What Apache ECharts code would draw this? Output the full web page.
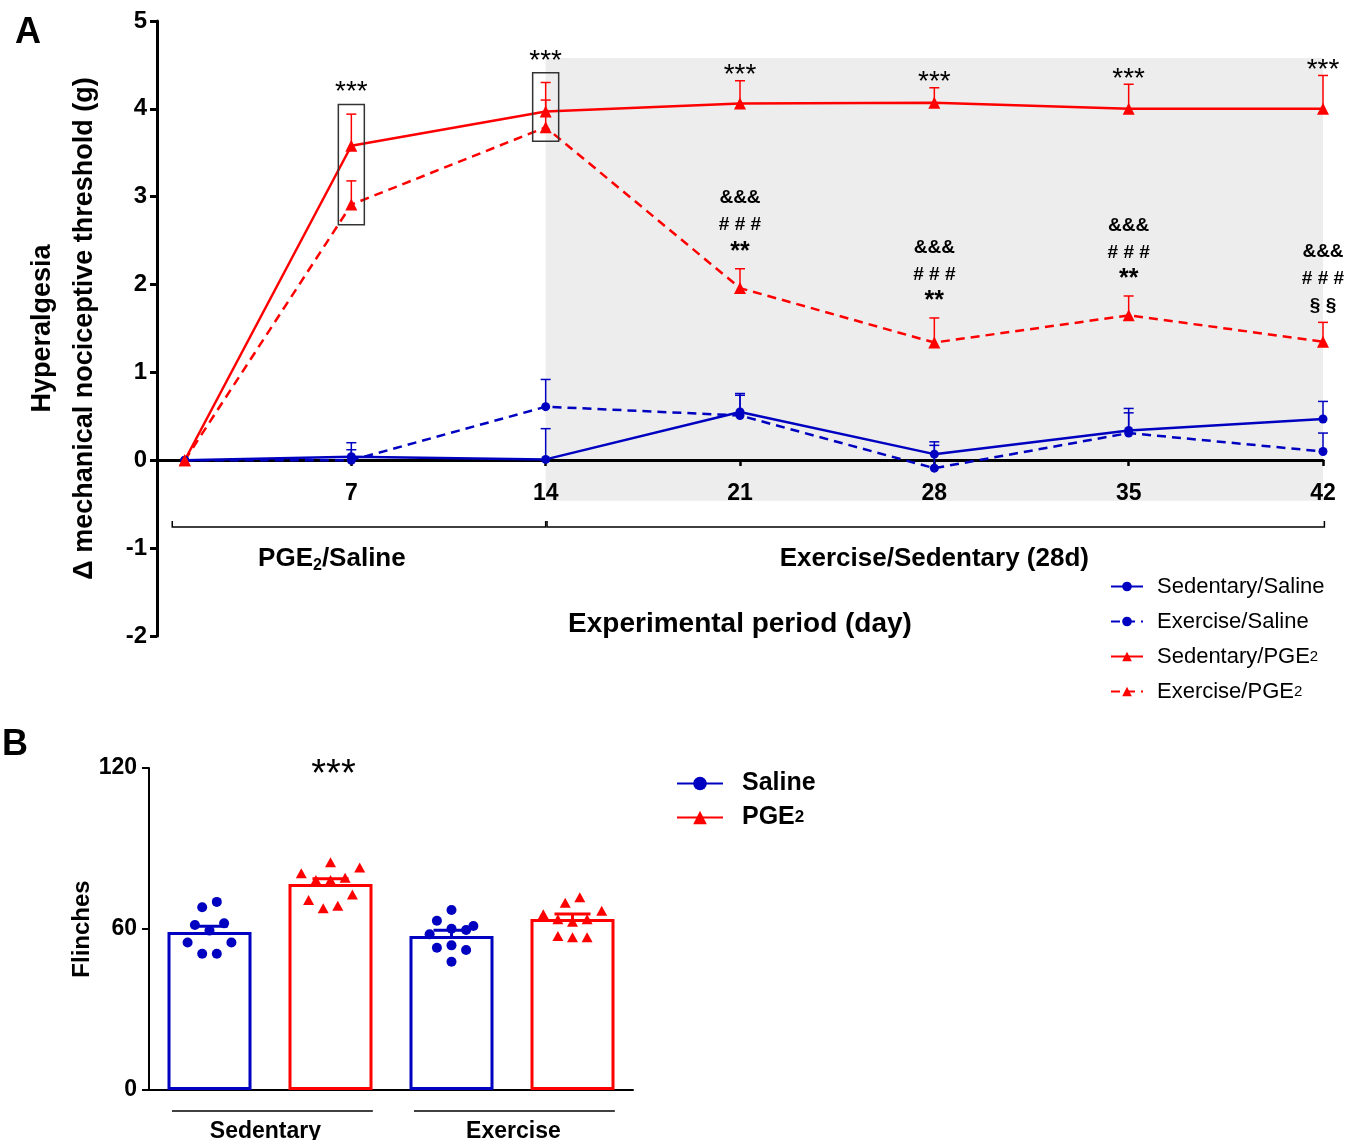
<!DOCTYPE html>
<html><head><meta charset="utf-8">
<script src="https://cdn.jsdelivr.net/npm/echarts@6/dist/echarts.min.js"></script>
<style>html,body{margin:0;padding:0;background:#fff}#c{width:1364px;height:1140px}</style>
</head><body><div id="c"></div><script>
// ---------- Panel A data ----------
const days = [1, 7, 14, 21, 28, 35, 42];
const sedSalineMean = [0, 0.04, 0.01, 0.55, 0.07, 0.34, 0.47];
const sedSalineSem  = [0, 0.16, 0.35, 0.21, 0.14, 0.25, 0.20];
const exSalineMean  = [0, 0.00, 0.61, 0.51, -0.09, 0.31, 0.10];
const exSalineSem   = [0, 0.12, 0.31, 0.23, 0.26, 0.23, 0.21];
const sedPGE2Mean   = [0, 3.58, 3.97, 4.06, 4.07, 4.00, 4.00];
const sedPGE2Sem    = [0, 0.36, 0.33, 0.26, 0.17, 0.28, 0.38];
const exPGE2Mean    = [0, 2.91, 3.79, 1.96, 1.34, 1.65, 1.35];
const exPGE2Sem     = [0, 0.27, 0.31, 0.22, 0.28, 0.22, 0.22];
const solidMarks  = ['', '***', '***', '***', '***', '***', '***'];
const dashedMarks = [null, null, null, ['&&&', '# # #', '**'], ['&&&', '# # #', '**'], ['&&&', '# # #', '**'], ['&&&', '# # #', '§ §']];
const boxDays = [7, 14];
const boxTops = [4.05, 4.41];
const boxBottoms = [2.68, 3.63];
const shadeDays = [14, 42];
const shadeValues = [-0.46, 4.58];
const periodLabels = ['PGE2/Saline', 'Exercise/Sedentary (28d)'];
const periodFrom = [0.55, 14.05];
const periodTo = [14, 42.05];
const periodLabelDay = [6.3, 28];
const periodLevel = -0.76, periodLabelLevel = -1.12;
const namesA = ['Sedentary/Saline', 'Exercise/Saline', 'Sedentary/PGE2', 'Exercise/PGE2'];

// ---------- Panel B data ----------
const groupsB = ['Sedentary/Saline', 'Sedentary/PGE2', 'Exercise/Saline', 'Exercise/PGE2'];
const flinchMean = [58.9, 76.8, 57.4, 63.7];
const flinchSem  = [2.1, 1.9, 2.1, 1.9];
const sedSalinePts = [68.1, 70.1, 61.5, 62.1, 59.4, 55.0, 55.0, 50.8, 50.8];
const sedSalineSlot = [-1, 1, -2, 2, 0, -3, 3, -1, 1];
const sedPGE2Pts = [80.8, 84.9, 82.9, 78.3, 78.3, 79.1, 70.8, 67.7, 68.7, 72.9];
const sedPGE2Slot = [-4, 0, 4, -2, 0, 2, -3, -1, 1, 3];
const exSalinePts = [67.1, 63.1, 61.1, 59.6, 60.1, 58.0, 53.0, 53.9, 52.2, 47.8];
const exSalineSlot = [0, -2, 3, 2, 0, -3, -2, 0, 2, 0];
const exPGE2Pts = [65.5, 69.8, 71.8, 66.8, 63.6, 62.7, 63.6, 57.4, 56.9, 56.9];
const exPGE2Slot = [-4, -1, 1, 4, -2, 0, 2, -2, 0, 2];
const groupNames = ['Sedentary', 'Exercise'];
const groupFirst = [0, 2], groupLast = [1, 3];
const groupLineLevel = -7.8, groupLabelLevel = -15;

// ---------- styles ----------
const FONT = "'Liberation Sans', Arial, sans-serif";
const BLUE = '#0000c0', RED = '#ff0000';
const DASH = [9, 6];
const SLOT = 7.3;

function errRender(color, lw, cw) {
  return function (params, api) {
    const x = api.value(0), m = api.value(1), s = api.value(2);
    if (!s) return null;
    const p0 = api.coord([x, m]), p1 = api.coord([x, m + s]);
    return {type: 'group', children: [
      {type: 'line', shape: {x1: p0[0], y1: p0[1], x2: p1[0], y2: p1[1]}, style: {stroke: color, lineWidth: lw}},
      {type: 'line', shape: {x1: p1[0] - cw, y1: p1[1], x2: p1[0] + cw, y2: p1[1]}, style: {stroke: color, lineWidth: lw}}
    ]};
  };
}
function rows(mean, sem) { return days.map((d, i) => [d, mean[i], sem[i]]); }
function lineA(name, mean, color, dashed, symbol, size) {
  return {
    type: 'line', name, xAxisIndex: 0, yAxisIndex: 0, z: 3,
    data: days.map((d, i) => [d, mean[i]]),
    symbol, symbolSize: size, showSymbol: true,
    itemStyle: {color},
    lineStyle: {color, width: 2.5, type: dashed ? DASH : 'solid'},
    emphasis: {disabled: true}
  };
}
function errA(mean, sem, color) {
  return {type: 'custom', xAxisIndex: 0, yAxisIndex: 0, z: 2, renderItem: errRender(color, 1.5, 5),
    encode: {x: 0, y: 1}, data: rows(mean, sem), silent: true};
}
function anchorSolid(i) {
  let a = sedPGE2Mean[i] + sedPGE2Sem[i];
  const b = boxDays.indexOf(days[i]);
  if (b >= 0) a = Math.max(a, boxTops[b]);
  return a;
}
const annotRows = [];
for (let i = 1; i < days.length; i++) {
  if (solidMarks[i]) annotRows.push([days[i], anchorSolid(i), i, boxDays.indexOf(days[i]) >= 0 ? 2 : 0]);
  if (dashedMarks[i]) annotRows.push([days[i], exPGE2Mean[i] + exPGE2Sem[i], i, 1]);
}
function pointsB(pts, slots, cat) {
  return pts.map((v, k) => ({value: [cat, v], symbolOffset: [slots[k] * SLOT, 0]}));
}
function subFmt(name) {
  return name.endsWith('PGE2') ? '{n|' + name.slice(0, -1) + '}{s|2}' : '{n|' + name + '}';
}

const option = {
  animation: false,
  backgroundColor: '#fff',
  grid: [
    {left: 157, right: 41, top: 21, bottom: 504},
    {left: 149, right: 731, top: 768, bottom: 50}
  ],
  xAxis: [
    {type: 'value', gridIndex: 0, min: 0, max: 42, interval: 7, position: 'bottom', offset: -176,
     axisLine: {onZero: false, lineStyle: {color: '#000', width: 3}},
     axisTick: {show: true, length: 6, lineStyle: {color: '#000', width: 2.5}},
     axisLabel: {formatter: v => v === 0 ? '' : String(v), color: '#000', fontFamily: FONT, fontWeight: 'bold', fontSize: 23, margin: 22},
     splitLine: {show: false},
     name: 'Experimental period (day)', nameLocation: 'middle', nameGap: 150,
     nameTextStyle: {color: '#000', fontFamily: FONT, fontWeight: 'bold', fontSize: 28}},
    {type: 'category', gridIndex: 1, data: groupsB,
     axisLine: {lineStyle: {color: '#000', width: 2}},
     axisTick: {show: false}, axisLabel: {show: false}, splitLine: {show: false}}
  ],
  yAxis: [
    {type: 'value', gridIndex: 0, min: -2, max: 5, interval: 1,
     axisLine: {show: true, onZero: false, lineStyle: {color: '#000', width: 3}},
     axisTick: {show: true, length: 7, lineStyle: {color: '#000', width: 3}},
     axisLabel: {color: '#000', fontFamily: FONT, fontWeight: 'bold', fontSize: 24, margin: 10},
     splitLine: {show: false},
     name: 'Hyperalgesia\nΔ mechanical nociceptive threshold (g)', nameLocation: 'middle', nameRotate: 90, nameGap: 51,
     nameTextStyle: {color: '#000', fontFamily: FONT, fontWeight: 'bold', fontSize: 27, lineHeight: 42}},
    {type: 'value', gridIndex: 1, min: 0, max: 120, interval: 60,
     axisLine: {show: true, lineStyle: {color: '#000', width: 2}},
     axisTick: {show: true, length: 7, lineStyle: {color: '#000', width: 2}},
     axisLabel: {color: '#000', fontFamily: FONT, fontWeight: 'bold', fontSize: 23, margin: 12},
     splitLine: {show: false},
     name: 'Flinches', nameLocation: 'middle', nameRotate: 90, nameGap: 50,
     nameTextStyle: {color: '#000', fontFamily: FONT, fontWeight: 'bold', fontSize: 24}}
  ],
  legend: [
    {orient: 'vertical', left: 1105, top: 569, itemWidth: 32, itemHeight: 12, itemGap: 10,
     data: namesA, formatter: subFmt, selectedMode: false,
     textStyle: {color: '#000', rich: {
       n: {fontFamily: FONT, fontSize: 22, color: '#000', lineHeight: 25, height: 25, padding: [0, 0, 0, 9]},
       s: {fontFamily: FONT, fontSize: 15, color: '#000', lineHeight: 25, height: 25, verticalAlign: 'bottom'}}}},
    {orient: 'vertical', left: 671, top: 765, itemWidth: 46, itemHeight: 17, itemGap: 7,
     data: ['Saline', 'PGE2'], formatter: subFmt, selectedMode: false,
     textStyle: {color: '#000', rich: {
       n: {fontFamily: FONT, fontSize: 25, fontWeight: 'bold', color: '#000', lineHeight: 27, height: 27, padding: [0, 0, 0, 14]},
       s: {fontFamily: FONT, fontSize: 17, fontWeight: 'bold', color: '#000', lineHeight: 27, height: 27, verticalAlign: 'bottom'}}}}
  ],
  graphic: [
    {type: 'text', left: 15, top: 15, style: {text: 'A', font: `bold 36px ${FONT}`, fill: '#000'}},
    {type: 'text', left: 2, top: 727, style: {text: 'B', font: `bold 36px ${FONT}`, fill: '#000'}}
  ],
  series: [
    // grey shaded exercise period
    {type: 'custom', xAxisIndex: 0, yAxisIndex: 0, z: 0, silent: true,
     encode: {x: [0, 2], y: [1, 3]},
     data: [[shadeDays[0], shadeValues[0], shadeDays[1], shadeValues[1]]],
     renderItem: (p, api) => {
       const a = api.coord([api.value(0), api.value(3)]), b = api.coord([api.value(2), api.value(1)]);
       return {type: 'rect', shape: {x: a[0], y: a[1], width: b[0] - a[0], height: b[1] - a[1]}, style: {fill: '#ededed'}};
     }},
    errA(sedSalineMean, sedSalineSem, BLUE),
    errA(exSalineMean, exSalineSem, BLUE),
    errA(sedPGE2Mean, sedPGE2Sem, RED),
    errA(exPGE2Mean, exPGE2Sem, RED),
    lineA(namesA[0], sedSalineMean, BLUE, false, 'circle', 9),
    lineA(namesA[1], exSalineMean, BLUE, true, 'circle', 9),
    lineA(namesA[2], sedPGE2Mean, RED, false, 'triangle', 12),
    lineA(namesA[3], exPGE2Mean, RED, true, 'triangle', 12),
    // boxes around day 7 / 14
    {type: 'custom', xAxisIndex: 0, yAxisIndex: 0, z: 4, silent: true, encode: {x: 0, y: [1, 2]},
     data: boxDays.map((d, i) => [d, boxBottoms[i], boxTops[i]]),
     renderItem: (p, api) => {
       const t = api.coord([api.value(0), api.value(2)]), b = api.coord([api.value(0), api.value(1)]);
       return {type: 'rect', shape: {x: t[0] - 13, y: t[1], width: 26, height: b[1] - t[1]},
               style: {fill: 'none', stroke: '#333', lineWidth: 1.5}};
     }},
    // significance annotations
    {type: 'custom', xAxisIndex: 0, yAxisIndex: 0, z: 5, silent: true, encode: {x: 0, y: 1},
     data: annotRows,
     renderItem: (p, api) => {
       const pt = api.coord([api.value(0), api.value(1)]);
       const i = api.value(2), kind = api.value(3);
       if (kind !== 1) {
         return {type: 'text', style: {text: solidMarks[i], x: pt[0], y: pt[1] + (kind === 2 ? 2 : 9), align: 'center', verticalAlign: 'bottom',
                 font: `28px ${FONT}`, fill: '#000'}};
       }
       const ln = dashedMarks[i];
       const last = ln[2].indexOf('*') >= 0 ? '{b|' + ln[2] + '}' : '{a|' + ln[2] + '}';
       return {type: 'text', style: {text: '{a|' + ln[0] + '}\n{a|' + ln[1] + '}\n' + last, x: pt[0], y: pt[1] - 3,
               align: 'center', verticalAlign: 'bottom', fill: '#000',
               rich: {a: {fontFamily: FONT, fontWeight: 'bold', fontSize: 19, lineHeight: 27, fill: '#000'},
                      b: {fontFamily: FONT, fontWeight: 'bold', fontSize: 25, lineHeight: 27, fill: '#000'}}}};
     }},
    // period brackets
    {type: 'custom', xAxisIndex: 0, yAxisIndex: 0, z: 5, silent: true, encode: {x: [0, 1], y: 2},
     data: periodLabels.map((l, i) => [periodFrom[i], periodTo[i], periodLevel, i]),
     renderItem: (p, api) => {
       const i = api.value(3);
       const a = api.coord([api.value(0), api.value(2)]), b = api.coord([api.value(1), api.value(2)]);
       const c = api.coord([periodLabelDay[i], periodLabelLevel]);
       const lbl = periodLabels[i];
       const txt = lbl.indexOf('PGE2') === 0 ? '{n|PGE}{s|2}{n|' + lbl.slice(4) + '}' : '{n|' + lbl + '}';
       return {type: 'group', children: [
         {type: 'polyline', shape: {points: [[a[0], a[1] - 6], [a[0], a[1]], [b[0], b[1]], [b[0], b[1] - 6]]},
          style: {stroke: '#000', lineWidth: 1.5, fill: 'none'}},
         {type: 'text', style: {text: txt, x: c[0], y: c[1], align: 'center', verticalAlign: 'middle',
          rich: {n: {fontFamily: FONT, fontWeight: 'bold', fontSize: 26, fill: '#000', lineHeight: 30},
                 s: {fontFamily: FONT, fontWeight: 'bold', fontSize: 16, fill: '#000', lineHeight: 30, verticalAlign: 'bottom'}}}}
       ]};
     }},
    // ---------- Panel B ----------
    {type: 'bar', xAxisIndex: 1, yAxisIndex: 1, z: 2, barWidth: 84, silent: true,
     data: flinchMean.map((v, i) => ({value: v, itemStyle: {color: '#fff', borderColor: i % 2 ? RED : BLUE, borderWidth: 3}}))},
    {type: 'custom', xAxisIndex: 1, yAxisIndex: 1, z: 3, silent: true, encode: {x: 0, y: 1},
     data: flinchMean.map((v, i) => [i, v, flinchSem[i]]),
     renderItem: (p, api) => errRender(p.dataIndex % 2 ? RED : BLUE, 3, 18)(p, api)},
    {type: 'scatter', xAxisIndex: 1, yAxisIndex: 1, z: 4, symbol: 'circle', symbolSize: 10, silent: true,
     itemStyle: {color: BLUE, opacity: 1},
     data: pointsB(sedSalinePts, sedSalineSlot, 0).concat(pointsB(exSalinePts, exSalineSlot, 2))},
    {type: 'scatter', xAxisIndex: 1, yAxisIndex: 1, z: 4, symbol: 'triangle', symbolSize: [11, 10], silent: true,
     itemStyle: {color: RED, opacity: 1},
     data: pointsB(sedPGE2Pts, sedPGE2Slot, 1).concat(pointsB(exPGE2Pts, exPGE2Slot, 3))},
    {type: 'line', name: 'Saline', xAxisIndex: 1, yAxisIndex: 1, data: [], symbol: 'circle',
     itemStyle: {color: BLUE}, lineStyle: {color: BLUE, width: 3}},
    {type: 'line', name: 'PGE2', xAxisIndex: 1, yAxisIndex: 1, data: [], symbol: 'triangle',
     itemStyle: {color: RED}, lineStyle: {color: RED, width: 3}},
    // "***" and group brackets
    {type: 'custom', xAxisIndex: 1, yAxisIndex: 1, z: 5, silent: true, encode: {x: 0, y: 1},
     data: [[1, 120]],
     renderItem: (p, api) => {
       const pt = api.coord([api.value(0), api.value(1)]);
       return {type: 'text', style: {text: '***', x: pt[0] + 3, y: pt[1] + 8, align: 'center', verticalAlign: 'middle', font: `38px ${FONT}`, fill: '#000'}};
     }},
    {type: 'custom', xAxisIndex: 1, yAxisIndex: 1, z: 5, silent: true, encode: {x: 0, y: 2},
     data: groupNames.map((g, i) => [groupFirst[i], groupLast[i], groupLineLevel, i]),
     renderItem: (p, api) => {
       const bw = api.size([1, 0])[0];
       const i = api.value(3);
       const a = api.coord([api.value(0), api.value(2)]), b = api.coord([api.value(1), api.value(2)]);
       const t = api.coord([api.value(0), groupLabelLevel]);
       const x0 = a[0] - bw * 0.31, x1 = b[0] + bw * 0.35;
       return {type: 'group', children: [
         {type: 'line', shape: {x1: x0, y1: a[1], x2: x1, y2: a[1]}, style: {stroke: '#000', lineWidth: 1.5}},
         {type: 'text', style: {text: groupNames[i], x: (x0 + x1) / 2 - (i === 0 ? 7 : 1), y: t[1] + 1, align: 'center', verticalAlign: 'middle',
          font: `bold 23px ${FONT}`, fill: '#000'}}
       ]};
     }}
  ]
};
const chart = echarts.init(document.getElementById('c'));
chart.setOption(option);
</script></body></html>
